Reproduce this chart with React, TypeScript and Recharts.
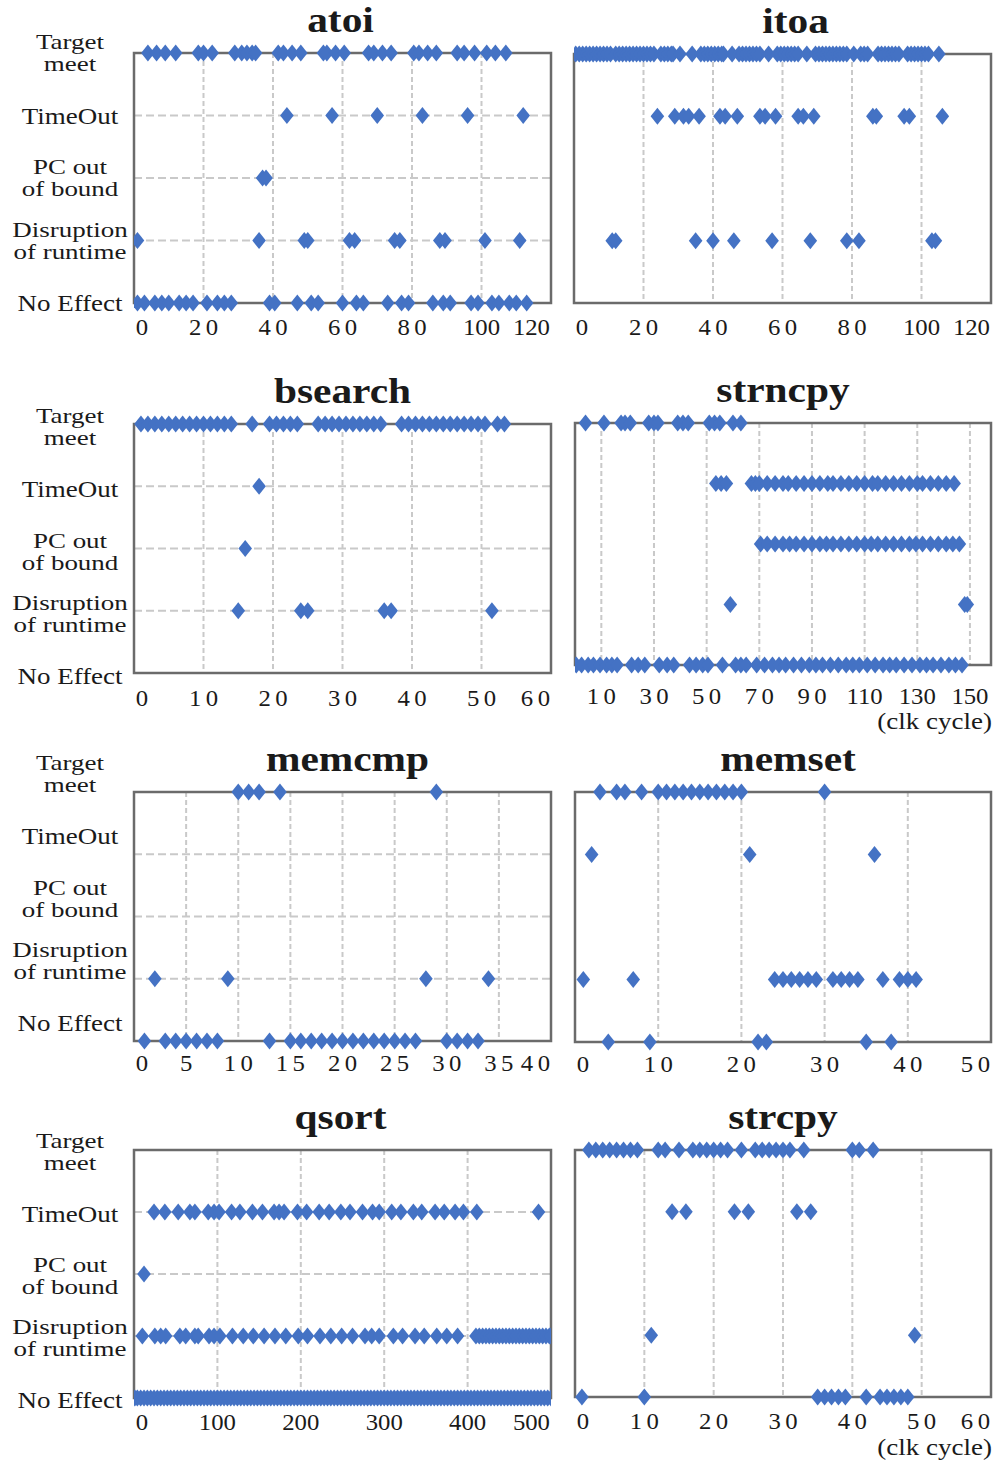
import React from 'react';
import { ScatterChart, Scatter, XAxis, YAxis, CartesianGrid, ReferenceArea } from 'recharts';

const SERIF = "'Liberation Serif', 'Times New Roman', serif";
const BLUE = '#4472C4';
const TEXT = '#1a1a1a';

// Category levels (0 = bottom)
const categoryLines: string[][] = [
  ['No Effect'],
  ['Disruption', 'of runtime'],
  ['PC out', 'of bound'],
  ['TimeOut'],
  ['Target', 'meet'],
];
const categoryLevels = [0, 1, 2, 3, 4];

// ---------- atoi ----------
const atoiTicks = [0, 20, 40, 60, 80, 100, 120];
const atoiTarget = [4, 6.5, 9, 12, 18.5, 20, 22.5, 29, 31, 32.5, 34, 35, 41.5, 43, 45.5, 48, 54.5, 55.5, 58, 60.5, 67.5, 69, 71.5, 74, 80.5, 82, 84.5, 87, 93, 95, 98, 101.5, 104, 107];
const atoiTimeOut = [44, 57, 70, 83, 96, 112];
const atoiPcOut = [37, 38];
const atoiDisruption = [1, 36, 49, 50, 62, 63.5, 75, 76.5, 88, 89.5, 101, 111];
const atoiNoEffect = [1, 3, 6, 8, 10, 13, 15, 17, 21, 24, 26, 28, 39, 40.5, 47, 51, 53, 60, 64, 66, 73, 77, 79, 86, 89, 91, 97, 99, 103, 105, 108, 110, 113];

// ---------- itoa ----------
const itoaTicks = [0, 20, 40, 60, 80, 100, 120];
const itoaTarget = [0.5, 1.5, 2.5, 3.5, 4.5, 5.5, 6.5, 7.5, 8.5, 9.5, 10.5, 12, 13, 14, 15, 16, 17, 18, 19, 20, 21, 22, 23, 25, 26, 27, 28, 28.5, 30.5, 34, 36.5, 37.5, 38.5, 39.5, 40.5, 41.5, 42.5, 43, 45.5, 47.5, 48.5, 49.5, 50.5, 51.5, 52.5, 53.5, 56, 58.5, 59.5, 60.5, 61.5, 62.5, 63.5, 64.5, 67, 69.5, 70.5, 71.5, 72.5, 73.5, 74.5, 75.5, 76.5, 77.5, 78.5, 80.5, 82.5, 83.5, 84.5, 87.5, 88.5, 89.5, 90.5, 91.5, 92.5, 93.5, 96, 97, 98, 99, 100, 101, 102, 105];
const itoaTimeOut = [24, 29, 31.5, 33, 36, 42, 43.5, 47, 53.5, 55, 58, 64.5, 66, 69, 86, 87, 95, 96.5, 106];
const itoaPcOut: number[] = [];
const itoaDisruption = [11, 12, 35, 40, 46, 57, 68, 78.5, 82, 103, 104];
const itoaNoEffect: number[] = [];

// ---------- bsearch ----------
const bsearchTicks = [0, 10, 20, 30, 40, 50, 60];
const bsearchTarget = [1, 2, 3, 4, 5, 6, 7, 8, 9, 10, 11, 12, 13, 14, 17, 19.5, 20.5, 21.5, 22.5, 23.5, 26.5, 27.5, 28.5, 29.5, 30.5, 31.5, 32.5, 33.5, 34.5, 35.5, 38.5, 39.5, 40.5, 41.5, 42.5, 43.5, 44.5, 45.5, 46.5, 47.5, 48.5, 49.5, 50.5, 52.3, 53.3];
const bsearchTimeOut = [18];
const bsearchPcOut = [16];
const bsearchDisruption = [15, 24, 25, 36, 37, 51.5];
const bsearchNoEffect: number[] = [];

// ---------- strncpy ----------
const strncpyTicks = [10, 30, 50, 70, 90, 110, 130, 150];
const strncpyTarget = [4, 11, 17.5, 19, 21, 28, 30, 31.5, 39, 41, 43, 51, 53, 55, 60, 63];
const strncpyTimeOut = [53.5, 55.5, 57.5, 67, 68.5, 70, 73, 76, 79, 81, 84, 87, 90, 93, 96, 98, 101, 104, 107, 110, 113, 115, 118, 121, 124, 127, 130, 132, 135, 138, 141, 144];
const strncpyPcOut = [70.5, 73, 76, 79, 81.5, 84, 87, 90, 93, 95.5, 98, 101, 104, 107, 110, 112.5, 115, 118, 121, 124, 127, 129.5, 132, 135, 138, 141, 143.5, 146];
const strncpyDisruption = [59, 148, 149];
const strncpyNoEffect = [0.5, 2.5, 5, 7, 9.5, 12, 14, 16, 21.5, 24, 26.5, 32, 35, 37.5, 43.5, 46, 48.5, 50.5, 56, 61, 63, 65, 69, 72, 75, 77.5, 80, 83, 86, 89, 91.5, 94, 97, 100, 103, 105.5, 108, 111, 114, 117, 119.5, 122, 125, 128, 131, 133.5, 136, 139, 142, 144.5, 147];

// ---------- memcmp ----------
const memcmpTicks = [0, 5, 10, 15, 20, 25, 30, 35, 40];
const memcmpTarget = [10, 11, 12, 14, 29];
const memcmpTimeOut: number[] = [];
const memcmpPcOut: number[] = [];
const memcmpDisruption = [2, 9, 28, 34];
const memcmpNoEffect = [1, 3, 4, 5, 6, 7, 8, 13, 15, 16, 17, 18, 19, 20, 21, 22, 23, 24, 25, 26, 27, 30, 31, 32, 33];

// ---------- memset ----------
const memsetTicks = [0, 10, 20, 30, 40, 50];
const memsetTarget = [3, 5, 6, 8, 10, 11, 12, 13, 14, 15, 16, 17, 18, 19, 20, 30];
const memsetTimeOut = [2, 21, 36];
const memsetPcOut: number[] = [];
const memsetDisruption = [1, 7, 24, 25, 26, 27, 28, 29, 31, 32, 33, 34, 37, 39, 40, 41];
const memsetNoEffect = [4, 9, 22, 23, 35, 38];

// ---------- qsort ----------
const qsortTicks = [0, 100, 200, 300, 400, 500];
const qsortTarget: number[] = [];
const qsortTimeOut = [24, 37, 53, 67, 73, 89, 96, 102, 117, 127, 142, 154, 168, 174, 180, 196, 207, 222, 234, 248, 259, 274, 286, 294, 309, 320, 335, 345, 361, 372, 385, 395, 411, 485];
const qsortPcOut = [12];
const qsortDisruption = [10, 25, 32, 38, 55, 62, 73, 77, 90, 96, 103, 118, 131, 143, 156, 169, 182, 197, 208, 223, 236, 249, 262, 277, 285, 294, 311, 322, 337, 348, 363, 375, 388, 410, 414, 418, 422, 426, 430, 434, 438, 442, 446, 450, 454, 458, 462, 466, 470, 474, 478, 482, 486, 490, 494, 498, 500];
const qsortNoEffect = [1, 4, 8, 12, 16, 20, 24, 28, 32, 36, 40, 44, 48, 52, 56, 60, 64, 68, 72, 76, 80, 84, 88, 92, 96, 100, 104, 108, 112, 116, 120, 124, 128, 132, 136, 140, 144, 148, 152, 156, 160, 164, 168, 172, 176, 180, 184, 188, 192, 196, 200, 204, 208, 212, 216, 220, 224, 228, 232, 236, 240, 244, 248, 252, 256, 260, 264, 268, 272, 276, 280, 284, 288, 292, 296, 300, 304, 308, 312, 316, 320, 324, 328, 332, 336, 340, 344, 348, 352, 356, 360, 364, 368, 372, 376, 380, 384, 388, 392, 396, 400, 404, 408, 412, 416, 420, 424, 428, 432, 436, 440, 444, 448, 452, 456, 460, 464, 468, 472, 476, 480, 484, 488, 492, 496, 500];

// ---------- strcpy ----------
const strcpyTicks = [0, 10, 20, 30, 40, 50, 60];
const strcpyTarget = [2, 3, 4, 5, 6, 7, 8, 9, 12, 13, 15, 17, 18, 19, 20, 21, 22, 24, 26, 27, 28, 29, 30, 31, 33, 40, 41, 43];
const strcpyTimeOut = [14, 16, 23, 25, 32, 34];
const strcpyPcOut: number[] = [];
const strcpyDisruption = [11, 49];
const strcpyNoEffect = [1, 10, 35, 36, 37, 38, 39, 42, 44, 45, 46, 47, 48];

type Panel = { title: string; max: number; ticks: number[]; series: number[][] };

const panels: Panel[] = [
  { title: 'atoi', max: 120, ticks: atoiTicks, series: [atoiNoEffect, atoiDisruption, atoiPcOut, atoiTimeOut, atoiTarget] },
  { title: 'itoa', max: 120, ticks: itoaTicks, series: [itoaNoEffect, itoaDisruption, itoaPcOut, itoaTimeOut, itoaTarget] },
  { title: 'bsearch', max: 60, ticks: bsearchTicks, series: [bsearchNoEffect, bsearchDisruption, bsearchPcOut, bsearchTimeOut, bsearchTarget] },
  { title: 'strncpy', max: 158, ticks: strncpyTicks, series: [strncpyNoEffect, strncpyDisruption, strncpyPcOut, strncpyTimeOut, strncpyTarget] },
  { title: 'memcmp', max: 40, ticks: memcmpTicks, series: [memcmpNoEffect, memcmpDisruption, memcmpPcOut, memcmpTimeOut, memcmpTarget] },
  { title: 'memset', max: 50, ticks: memsetTicks, series: [memsetNoEffect, memsetDisruption, memsetPcOut, memsetTimeOut, memsetTarget] },
  { title: 'qsort', max: 500, ticks: qsortTicks, series: [qsortNoEffect, qsortDisruption, qsortPcOut, qsortTimeOut, qsortTarget] },
  { title: 'strcpy', max: 60, ticks: strcpyTicks, series: [strcpyNoEffect, strcpyDisruption, strcpyPcOut, strcpyTimeOut, strcpyTarget] },
];

type Layout = { boxLeft: number; boxTop: number; boxW: number; boxH: number; yLabels: boolean; labelDy: number; tickDy: number; titleDx: number; clkY?: number };

const layouts: Layout[] = [
  { boxLeft: 134, boxTop: 53, boxW: 417, boxH: 250, yLabels: true, labelDy: 0, tickDy: 32, titleDx: -2 },
  { boxLeft: 574, boxTop: 54, boxW: 417, boxH: 249, yLabels: false, labelDy: 0, tickDy: 32, titleDx: 13 },
  { boxLeft: 134, boxTop: 424, boxW: 417, boxH: 249, yLabels: true, labelDy: 3, tickDy: 33, titleDx: 0 },
  { boxLeft: 575, boxTop: 423, boxW: 416, boxH: 242, yLabels: false, labelDy: 0, tickDy: 39, titleDx: 0, clkY: 729 },
  { boxLeft: 134, boxTop: 792, boxW: 417, boxH: 249, yLabels: true, labelDy: -18, tickDy: 30, titleDx: 5 },
  { boxLeft: 575, boxTop: 792, boxW: 416, boxH: 250, yLabels: false, labelDy: 0, tickDy: 30, titleDx: 5 },
  { boxLeft: 134, boxTop: 1150, boxW: 417, boxH: 248, yLabels: true, labelDy: 2, tickDy: 32, titleDx: -2 },
  { boxLeft: 575, boxTop: 1150, boxW: 416, boxH: 247, yLabels: false, labelDy: 0, tickDy: 32, titleDx: 0, clkY: 1455 },
];

const LABEL_CX = 70;
const PAD_T = 50;
const PAD_SIDE = 24;
const AXIS_H = 70;

const Diamond = (props: any) => {
  const { cx, cy } = props;
  if (cx == null || cy == null) return null;
  const w = 6.8;
  const h = 8.6;
  return <polygon points={`${cx},${cy - h} ${cx + w},${cy} ${cx},${cy + h} ${cx - w},${cy}`} fill={BLUE} />;
};

const CatTick = (props: any) => {
  const { y, payload, dy } = props;
  const lines = categoryLines[payload.value];
  if (!lines) return null;
  if (lines.length === 1) {
    return (
      <g transform={`translate(${LABEL_CX},${y + 8 + dy}) scale(1.2,1)`}>
        <text x={0} y={0} textAnchor="middle" fontFamily={SERIF} fontSize={22.5} fill={TEXT}>{lines[0]}</text>
      </g>
    );
  }
  return (
    <g transform={`translate(${LABEL_CX},${y + dy}) scale(1.33,1)`}>
      <text textAnchor="middle" fontFamily={SERIF} fontSize={20.3} fill={TEXT}>
        <tspan x={0} y={-4}>{lines[0]}</tspan>
        <tspan x={0} y={18.5}>{lines[1]}</tspan>
      </text>
    </g>
  );
};

const XTick = (props: any) => {
  const { x, payload, max, baseY } = props;
  const v = payload.value;
  const s = String(v);
  const spacing = s.length === 2 ? 4 : 0;
  let anchor: 'middle' | 'end' = 'middle';
  let tx = x;
  let dx = spacing / 2;
  if (v === max) {
    anchor = 'end';
    tx = x - 1;
    dx = spacing;
  } else if (v === 0) {
    tx = x + 8;
  }
  return (
    <g transform={`translate(${tx},${baseY}) scale(1.1,1)`}>
      <text x={0} y={0} dx={dx} textAnchor={anchor} fontFamily={SERIF} fontSize={22.5} fill={TEXT} letterSpacing={spacing}>{s}</text>
    </g>
  );
};

function PanelChart({ p, l }: { p: Panel; l: Layout }) {
  const padL = l.yLabels ? 0 : PAD_SIDE;
  const yW = l.yLabels ? l.boxLeft : 0;
  const chartLeft = l.yLabels ? 0 : l.boxLeft - padL;
  const width = (l.yLabels ? l.boxLeft : padL) + l.boxW + PAD_SIDE;
  const height = PAD_T + l.boxH + AXIS_H;
  const plotBottom = PAD_T + l.boxH;
  return (
    <div style={{ position: 'absolute', left: chartLeft, top: l.boxTop - PAD_T }}>
      <ScatterChart width={width} height={height} margin={{ top: PAD_T, right: PAD_SIDE, bottom: 0, left: padL }}>
        <CartesianGrid vertical={false} stroke="#c9c9c9" strokeWidth={2} strokeDasharray="8 4" />
        <CartesianGrid horizontal={false} stroke="#c9c9c9" strokeWidth={2} strokeDasharray="5 3" />
        <XAxis
          type="number"
          dataKey="x"
          domain={[0, p.max]}
          ticks={p.ticks}
          interval={0}
          axisLine={false}
          tickLine={false}
          height={AXIS_H}
          allowDataOverflow
          tick={(tp: any) => <XTick {...tp} max={p.max} baseY={plotBottom + l.tickDy} />}
        />
        <YAxis
          type="number"
          dataKey="y"
          domain={[0, 4]}
          ticks={categoryLevels}
          interval={0}
          width={yW}
          axisLine={false}
          tickLine={false}
          tick={l.yLabels ? (tp: any) => <CatTick {...tp} dy={l.labelDy} /> : false}
        />
        <ReferenceArea x1={0} x2={p.max} y1={0} y2={4} fill="none" fillOpacity={0} stroke="#6b6b6b" strokeWidth={2.5} ifOverflow="visible" />
        {p.series.map((vals, level) => (
          <Scatter
            key={level}
            data={vals.map((v) => ({ x: v, y: level }))}
            fill={BLUE}
            shape={Diamond}
            isAnimationActive={false}
          />
        ))}
      </ScatterChart>
    </div>
  );
}

export default function App() {
  return (
    <div style={{ position: 'absolute', left: 0, top: 0, width: 1000, height: 1460, background: '#fff' }}>
      {panels.map((p, i) => (
        <PanelChart key={p.title} p={p} l={layouts[i]} />
      ))}
      <svg width={1000} height={1460} style={{ position: 'absolute', left: 0, top: 0, pointerEvents: 'none' }}>
        {panels.map((p, i) => {
          const l = layouts[i];
          return (
            <g key={p.title} transform={`translate(${l.boxLeft + l.boxW / 2 + l.titleDx},${l.boxTop - 21}) scale(1.15,1)`}>
              <text x={0} y={0} textAnchor="middle" fontFamily={SERIF} fontWeight="bold" fontSize={36} fill={TEXT}>{p.title}</text>
            </g>
          );
        })}
        {layouts.map((l, i) =>
          l.clkY ? (
            <g key={`clk${i}`} transform={`translate(${l.boxLeft + l.boxW + 1},${l.clkY}) scale(1.2,1)`}>
              <text x={0} y={0} textAnchor="end" fontFamily={SERIF} fontSize={22.5} fill={TEXT}>(clk cycle)</text>
            </g>
          ) : null
        )}
      </svg>
    </div>
  );
}
